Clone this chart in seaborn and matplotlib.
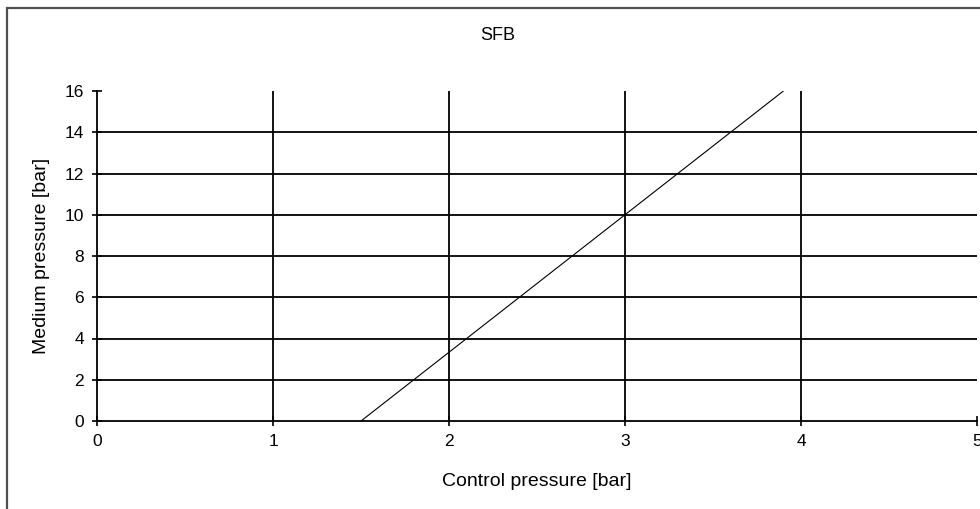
import matplotlib
matplotlib.use("Agg")
import matplotlib.pyplot as plt
import seaborn as sns
import pandas as pd
from matplotlib.patches import Rectangle

control_pressure = [1.5, 3.9]
medium_pressure = [0.0, 16.0]
x_ticks = [0, 1, 2, 3, 4, 5]
y_ticks = [0, 2, 4, 6, 8, 10, 12, 14, 16]
title = "SFB"
x_label = "Control pressure [bar]"
y_label = "Medium pressure [bar]"

sns.set_theme(style="white")
plt.rcParams['font.family'] = ['Liberation Sans', 'DejaVu Sans']

df = pd.DataFrame({"x": control_pressure, "y": medium_pressure})

W, H = 980, 509
fig = plt.figure(figsize=(W / 100, H / 100), dpi=100)
fig.patch.set_facecolor("white")
ax = fig.add_axes([97 / W, 1 - 421 / H, (977 - 97) / W, (421 - 91) / H])

# gridlines (horizontal 2..14, vertical 1..4)
for yv in y_ticks[1:-1]:
    ax.axhline(yv, color="black", lw=1.3, zorder=1)
for xv in x_ticks[1:-1]:
    ax.axvline(xv, color="black", lw=1.3, zorder=1)

sns.lineplot(data=df, x="x", y="y", ax=ax, color="black", lw=0.8, zorder=3)

ax.set_xlim(0, 5)
ax.set_ylim(0, 16)
ax.set_xticks(x_ticks)
ax.set_yticks(y_ticks)
ax.set_xticklabels([str(v) for v in x_ticks])
ax.set_yticklabels([str(v) for v in y_ticks])
ax.tick_params(axis="both", which="major", direction="inout", length=7, width=1.2,
               color="black", labelsize=12.5, labelcolor="black", pad=6,
               bottom=True, left=True)
for s in ["top", "right"]:
    ax.spines[s].set_visible(False)
for s in ["left", "bottom"]:
    ax.spines[s].set_color("black")
    ax.spines[s].set_linewidth(1.3)

ax.set_xlabel("")
ax.set_ylabel("")
fig.text(537 / W, 1 - 482 / H, x_label, fontsize=14, color="black",
         ha="center", va="center")
fig.text(42 / W, 1 - 256 / H, y_label, fontsize=14, color="black",
         ha="center", va="center", rotation=90)
fig.text(498 / W, 1 - 36 / H, title, fontsize=13, color="black",
         ha="center", va="center")

# outer chart border
fig.patches.append(Rectangle((6.5 / W, -0.05), 1.2, 1 - 8 / H + 0.05,
                             transform=fig.transFigure, fill=False,
                             edgecolor="#505050", lw=1.6, zorder=10))

fig.savefig("out.png", dpi=100)
